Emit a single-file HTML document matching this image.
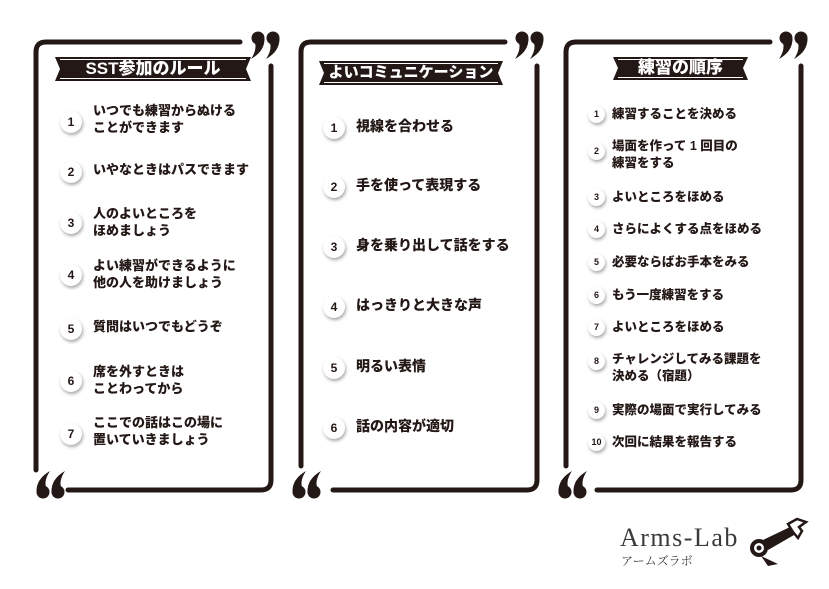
<!DOCTYPE html>
<html><head><meta charset="utf-8"><style>
body{margin:0;width:829px;height:589px;background:#fff;position:relative;overflow:hidden;font-family:"Liberation Sans","Noto Sans CJK JP",sans-serif;color:#231815}
.t{position:absolute;font-weight:900;white-space:nowrap;font-family:"Liberation Sans","Noto Sans CJK JP",sans-serif;}
.b{position:absolute;border-radius:50%;background:#fff;box-shadow:1px 2px 3px rgba(0,0,0,.35);text-align:center;font-weight:bold;font-family:"Liberation Sans",sans-serif;}
.p1 .t{font-size:13px;line-height:17px}
.p2 .t{font-size:14px;line-height:18px}
.p3 .t{font-size:12.5px;line-height:17px}
.p1 .b{width:22px;height:22px;line-height:22px;font-size:12px}
.p2 .b{width:22px;height:22px;line-height:22px;font-size:12px}
.p3 .b{width:17px;height:17px;line-height:17px;font-size:9px}
.ban{position:absolute;color:#fff;font-weight:900;text-align:center;font-size:16px}
</style></head><body>
<svg width="829" height="589" style="position:absolute;left:0;top:0">
<defs>
<g id="c"><circle cx="0" cy="0" r="6.5"/><path d="M6.5 0 Q7 13 -7 21 Q-1 12 -3 5 Z"/></g>
<g id="q"><use href="#c" x="0" y="0"/><use href="#c" x="15" y="0"/></g>
<g id="o"><g transform="rotate(180)"><use href="#c" x="0" y="0"/><use href="#c" x="15" y="0"/></g></g>
</defs>
<g fill="none" stroke="#231815" stroke-width="5" stroke-linecap="round">
<path d="M36 470 V52 Q36 42 46 42 H240"/>
<path d="M271 66 V480 Q271 490 261 490 H68"/>
<path d="M301 466 V52 Q301 42 311 42 H505"/>
<path d="M537 66 V480 Q537 490 527 490 H333"/>
<path d="M566 466 V52 Q566 42 576 42 H770"/>
<path d="M801 66 V480 Q801 490 791 490 H597"/>
</g>
<g fill="#231815">
<use href="#q" x="258" y="38"/><use href="#q" x="522" y="38"/><use href="#q" x="786" y="38"/>
<use href="#o" x="58" y="492"/><use href="#o" x="314" y="492"/><use href="#o" x="580" y="492"/>
</g>
<!-- banners -->
<g fill="#231815">
<path d="M55 57 H251 L246 69 L251 81 H55 L60 69 Z"/>
<path d="M319 61 H503 L498 73 L503 85 H319 L324 73 Z"/>
<path d="M613 57 H748 L743 68 L748 80 H613 L618 68 Z"/>
</g>
<g stroke="#fff" stroke-width="1" fill="none">
<path d="M60 59.5 H246 M60 78.5 H246"/><path d="M324 63.5 H498 M324 82.5 H498"/><path d="M618 59.5 H743 M618 77.5 H743"/>
</g>
<!-- logo -->
<text x="620" y="546" font-family="Liberation Serif,serif" font-size="26" fill="#3a3a3a" letter-spacing="1.5">Arms-Lab</text>
<text x="621" y="565" font-family="Noto Serif CJK SC,serif" font-size="12" fill="#3a3a3a">アームズラボ</text>
<g fill="#231815">
<circle cx="759" cy="548" r="9"/><circle cx="759" cy="548" r="5" fill="#fff"/><circle cx="759" cy="548" r="2.5"/>
<path d="M763 540 L790 527 L794 535 L768 550 Z"/>
<path d="M761 556 L778 564 L768 566 Z"/>
<path d="M788 524 L797 519 L806 522 L799 527 L802 531 L798 538 L793 532 Z" fill="none" stroke="#231815" stroke-width="2.5"/>
</g>
</svg>
<div class="ban" style="left:55px;top:59px;width:196px;line-height:20px;font-size:17px">SST参加のルール</div>
<div class="ban" style="left:319px;top:63px;width:184px;line-height:20px;font-size:15px">よいコミュニケーション</div>
<div class="ban" style="left:613px;top:58px;width:135px;line-height:20px;font-size:17px">練習の順序</div>

<div class="p1">
<div class="b" style="left:60px;top:111px">1</div><div class="t" style="left:93px;top:102px">いつでも練習からぬける<br>ことができます</div>
<div class="b" style="left:60px;top:161px">2</div><div class="t" style="left:93px;top:161px">いやなときはパスできます</div>
<div class="b" style="left:60px;top:212px">3</div><div class="t" style="left:93px;top:205px">人のよいところを<br>ほめましょう</div>
<div class="b" style="left:60px;top:264px">4</div><div class="t" style="left:93px;top:257px">よい練習ができるように<br>他の人を助けましょう</div>
<div class="b" style="left:60px;top:318px">5</div><div class="t" style="left:93px;top:318px">質問はいつでもどうぞ</div>
<div class="b" style="left:60px;top:370px">6</div><div class="t" style="left:93px;top:363px">席を外すときは<br>ことわってから</div>
<div class="b" style="left:60px;top:423px">7</div><div class="t" style="left:93px;top:414px">ここでの話はこの場に<br>置いていきましょう</div>
</div>
<div class="p2">
<div class="b" style="left:323px;top:117px">1</div><div class="t" style="left:356px;top:117px">視線を合わせる</div>
<div class="b" style="left:323px;top:176px">2</div><div class="t" style="left:356px;top:176px">手を使って表現する</div>
<div class="b" style="left:323px;top:236px">3</div><div class="t" style="left:356px;top:236px">身を乗り出して話をする</div>
<div class="b" style="left:323px;top:296px">4</div><div class="t" style="left:356px;top:296px">はっきりと大きな声</div>
<div class="b" style="left:323px;top:357px">5</div><div class="t" style="left:356px;top:357px">明るい表情</div>
<div class="b" style="left:323px;top:417px">6</div><div class="t" style="left:356px;top:417px">話の内容が適切</div>
</div>
<div class="p3">
<div class="b" style="left:588px;top:106px">1</div><div class="t" style="left:612px;top:106px">練習することを決める</div>
<div class="b" style="left:588px;top:143px">2</div><div class="t" style="left:612px;top:138px">場面を作って 1 回目の<br>練習をする</div>
<div class="b" style="left:588px;top:189px">3</div><div class="t" style="left:612px;top:189px">よいところをほめる</div>
<div class="b" style="left:588px;top:221px">4</div><div class="t" style="left:612px;top:221px">さらによくする点をほめる</div>
<div class="b" style="left:588px;top:254px">5</div><div class="t" style="left:612px;top:254px">必要ならばお手本をみる</div>
<div class="b" style="left:588px;top:287px">6</div><div class="t" style="left:612px;top:287px">もう一度練習をする</div>
<div class="b" style="left:588px;top:319px">7</div><div class="t" style="left:612px;top:319px">よいところをほめる</div>
<div class="b" style="left:588px;top:353px">8</div><div class="t" style="left:612px;top:351px">チャレンジしてみる課題を<br>決める（宿題）</div>
<div class="b" style="left:588px;top:402px">9</div><div class="t" style="left:612px;top:402px">実際の場面で実行してみる</div>
<div class="b" style="left:588px;top:434px">10</div><div class="t" style="left:612px;top:434px">次回に結果を報告する</div>
</div>
</body></html>
